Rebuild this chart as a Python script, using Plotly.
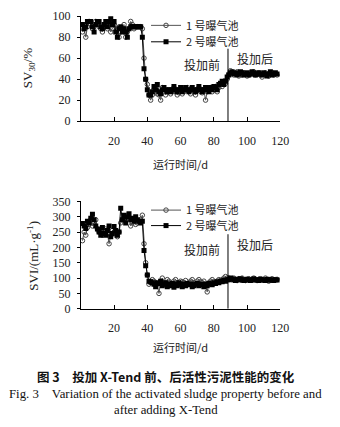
import plotly.graph_objects as go

days = list(range(1, 119))

sv_pool1 = [85, 88, 80, 90, 95, 92, 88, 90, 95, 92, 90, 88, 85, 90, 92, 88, 90, 85, 88, 92,
            90, 88, 80, 85, 88, 92, 80, 85, 88, 95, 92, 88, 90, 90, 90, 90,
            88, 60, 40, 35, 25, 20,
            25, 30, 28, 26, 25, 20, 32, 28, 25, 28, 30, 26, 28, 32, 28, 25, 27, 30, 26, 28, 30,
            32, 28, 26, 30, 28, 25, 30, 32, 28, 27, 30, 20, 28, 30, 32, 28, 30, 33, 28, 32, 35,
            33, 38, 36, 40,
            45, 48, 46, 44, 45, 47, 43, 45, 44, 46, 45, 43, 44, 46, 45, 47, 44, 45, 46, 44,
            42, 45, 46, 44, 43, 45, 46, 44, 45, 44]
sv_pool2 = [92, 88, 90, 95, 95, 95, 90, 85, 92, 95, 95, 90, 88, 92, 95, 90, 95, 98, 92, 95,
            85, 80, 88, 90, 85, 88, 85, 80, 88, 90, 90, 90, 90, 90, 90, 90,
            80, 50, 40, 30, 25, 25,
            28, 33, 30, 35, 28, 26, 30, 32, 30, 28, 30, 28, 30, 33, 30, 28, 30, 32, 28, 30, 32,
            30, 28, 30, 32, 30, 28, 30, 33, 30, 28, 30, 32, 30, 28, 32, 30, 33, 32, 30, 35, 36,
            38, 35, 38, 42,
            44, 46, 47, 45, 46, 44, 45, 47, 46, 44, 45, 46, 44, 45, 47, 46, 44, 45, 46, 45,
            44, 46, 45, 43, 45, 47, 44, 45, 46, 45]

svi_pool1 = [222, 250, 240, 265, 275, 290, 270, 280, 290, 260, 250, 255, 240, 250, 260, 245, 212, 240,
             255, 250, 240, 235, 250, 280, 290, 300, 285, 305, 295, 270, 280, 290, 275, 280, 285, 290,
             305, 212, 150, 110, 80, 85,
             95, 90, 85, 80, 50, 90, 100, 85, 80, 95, 90, 85, 80, 90, 95, 85, 80, 90, 88, 85,
             92, 80, 85, 90, 95, 85, 80, 90, 95, 88, 85, 90, 80, 55, 85, 90, 95, 88, 85, 90,
             95, 92, 95, 100, 105, 100,
             100, 98, 95, 100, 95, 92, 98, 95, 100, 95, 92, 96, 98, 94, 95, 100, 95, 92, 96, 98,
             95, 93, 100, 95, 90, 95, 98, 94, 95, 96]
svi_pool2 = [278, 270, 262, 285, 280, 295, 308, 290, 270, 260, 250, 240, 265, 245, 240, 255, 270, 235,
             245, 268, 255, 240, 250, 328, 290, 305, 280, 300, 310, 290, 295, 285, 300, 290, 285, 280,
             285, 190, 140, 110, 90, 88,
             85, 80, 72, 85, 82, 90, 75, 80, 85, 72, 80, 75, 82, 70, 80, 75, 85, 80, 72, 80,
             75, 82, 78, 80, 72, 75, 80, 82, 75, 80, 78, 72, 80, 75, 82, 80, 78, 85, 82, 88,
             85, 90, 88, 92, 90, 95,
             95, 100, 98, 95, 92, 96, 95, 98, 94, 92, 95, 96, 94, 92, 95, 98, 94, 95, 92, 96,
             94, 95, 92, 96, 95, 93, 95, 92, 95, 94]

series_names = ["1 号曝气池", "2 号曝气池"]
x_ticks = [20, 40, 60, 80, 100, 120]
sv_ticks = [0, 20, 40, 60, 80, 100]
svi_ticks = [0, 50, 100, 150, 200, 250, 300, 350]
dosing_day = 88.5

SERIF = "Liberation Serif, Times New Roman, serif"
CJK = "Noto Sans CJK SC, sans-serif"
W, H = 340, 427


def px_(x):
    return x / W


def py(y):
    return 1 - y / H


fig = go.Figure()

style1 = dict(mode="lines+markers", line=dict(color="#555555", width=1),
              marker=dict(symbol="circle-open", size=4.5, color="#444444", line=dict(width=1)))
style2 = dict(mode="lines+markers", line=dict(color="#000000", width=1),
              marker=dict(symbol="square", size=5, color="#000000"))

fig.add_trace(go.Scatter(x=days, y=sv_pool1, name=series_names[0], xaxis="x", yaxis="y",
                         legend="legend", showlegend=True, **style1))
fig.add_trace(go.Scatter(x=days, y=sv_pool2, name=series_names[1], xaxis="x", yaxis="y",
                         legend="legend2", showlegend=True, **style2))
fig.add_trace(go.Scatter(x=days, y=svi_pool1, name=series_names[0], xaxis="x2", yaxis="y2",
                         legend="legend3", showlegend=True, **style1))
fig.add_trace(go.Scatter(x=days, y=svi_pool2, name=series_names[1], xaxis="x2", yaxis="y2",
                         legend="legend4", showlegend=True, **style2))

xdom = [px_(83), px_(288)]
xcommon = dict(range=[0, 120], tickvals=x_ticks, ticks="inside", ticklen=4, tickcolor="black",
               showline=True, linecolor="black", linewidth=1, showgrid=False, zeroline=False,
               tickfont=dict(family=SERIF, size=12, color="#222"), ticklabelstandoff=8, domain=xdom)
ycommon = dict(ticks="outside", ticklen=3, tickcolor="black", showline=True, linecolor="black",
               linewidth=1, showgrid=False, zeroline=False,
               tickfont=dict(family=SERIF, size=12, color="#222"), ticklabelstandoff=4)


def leg(ytop):
    return dict(x=px_(150), y=py(ytop), xanchor="left", yanchor="top", bgcolor="rgba(0,0,0,0)",
                font=dict(family=CJK, size=11, color="#222"), itemwidth=30, tracegroupgap=0,
                visible=True)


fig.update_layout(
    width=W, height=H, margin=dict(l=0, r=0, t=0, b=0),
    paper_bgcolor="white", plot_bgcolor="white", showlegend=True,
    xaxis=dict(anchor="y", **xcommon),
    yaxis=dict(anchor="x", range=[0, 100], tickvals=sv_ticks, domain=[py(118), py(9.5)], **ycommon),
    xaxis2=dict(anchor="y2", **xcommon),
    yaxis2=dict(anchor="x2", range=[0, 350], tickvals=svi_ticks, domain=[py(312), py(201)], **ycommon),
    legend=leg(4), legend2=leg(21), legend3=leg(195), legend4=leg(211),
)

# dosing boundary lines
fig.add_shape(type="line", xref="x", yref="y", x0=dosing_day, x1=dosing_day, y0=0, y1=69,
              line=dict(color="black", width=1))
fig.add_shape(type="line", xref="x2", yref="y2", x0=dosing_day, x1=dosing_day, y0=0, y1=243,
              line=dict(color="black", width=1))

C = dict(showarrow=False, xanchor="center", yanchor="middle")
ann_font = dict(family=CJK, size=12, color="#222")
fig.add_annotation(text="投加前", x=73, y=54, xref="x", yref="y", font=ann_font, **C)
fig.add_annotation(text="投加后", x=105, y=60, xref="x", yref="y", font=ann_font, **C)
fig.add_annotation(text="投加前", x=73, y=192, xref="x2", yref="y2", font=ann_font, **C)
fig.add_annotation(text="投加后", x=105, y=208, xref="x2", yref="y2", font=ann_font, **C)

# axis titles
fig.add_annotation(text="SV<sub>30</sub>/%", x=px_(30), y=py(63), xref="paper", yref="paper",
                   textangle=-90, font=dict(family=SERIF, size=13, color="#222"), **C)
fig.add_annotation(text="SVI/(mL·g<sup>-1</sup>)", x=px_(33), y=py(257), xref="paper", yref="paper",
                   textangle=-90, font=dict(family=SERIF, size=13, color="#222"), **C)
fig.add_annotation(text="运行时间/d", x=px_(185), y=py(162), xref="paper", yref="paper",
                   font=dict(family=CJK, size=11, color="#222"), **C)
fig.add_annotation(text="运行时间/d", x=px_(185), y=py(352), xref="paper", yref="paper",
                   font=dict(family=CJK, size=11, color="#222"), **C)

# caption
fig.add_annotation(text="<b>图 3　投加 X-Tend 前、后活性污泥性能的变化</b>", x=px_(170), y=py(382),
                   xref="paper", yref="paper", font=dict(family=CJK, size=12.5, color="#111"), **C)
fig.add_annotation(text="Fig. 3　Variation of the activated sludge property before and", x=px_(170), y=py(400),
                   xref="paper", yref="paper", font=dict(family=SERIF, size=12.8, color="#111"), **C)
fig.add_annotation(text="after adding X-Tend", x=px_(170), y=py(417),
                   xref="paper", yref="paper", font=dict(family=SERIF, size=12.8, color="#111"), **C)

fig.write_html("out.html")
